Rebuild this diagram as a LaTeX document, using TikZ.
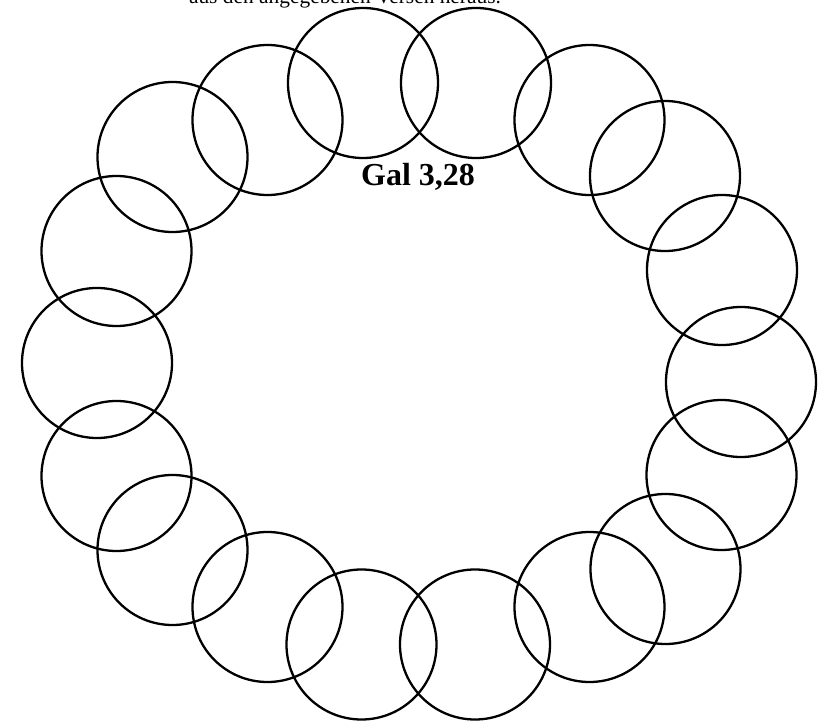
\documentclass[tikz,border=0pt]{standalone}
\usepackage{fontspec}
\setmainfont{Liberation Serif}
\begin{document}
\begin{tikzpicture}[x=1pt,y=-1pt,
  ring/.style={draw=black,circle,line width=2.3pt,minimum size=150pt,inner sep=0pt},
  toptext/.style={font=\fontsize{21.4}{24}\selectfont,inner sep=0pt,anchor=base},
  title/.style={font=\fontsize{32}{36}\selectfont\bfseries,inner sep=0pt,anchor=base}]
\useasboundingbox (0,0) rectangle (825,722);
\node[toptext] (hint) at (345,4) {aus den angegebenen Versen heraus.};
\foreach \n/\x/\y in {1/363/83,2/476/83,3/589.5/120,4/665/176,5/722/270,6/741/382,
  7/721.5/475,8/665.5/569,9/589.5/607,10/475/644.5,11/361.5/644.5,12/267.5/607,
  13/172.5/550,14/116.5/476,15/97/363,16/116.5/251,17/172.5/157,18/267.5/120}
  \node[ring] (c\n) at (\x,\y) {};
\node[title] (gal) at (418,186) {Gal 3,28};
\end{tikzpicture}
\end{document}
